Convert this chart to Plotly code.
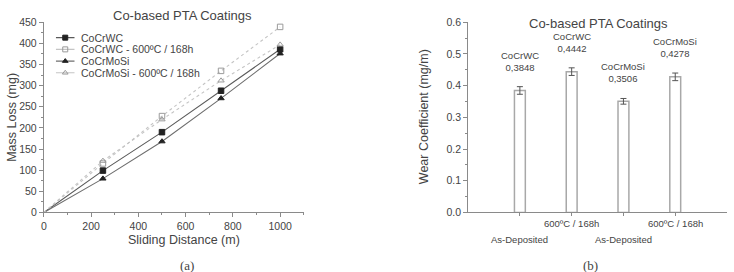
import plotly.graph_objects as go

# ---------------- data ----------------
distance = [0, 250, 500, 750, 1000]
cocrwc = [0, 99, 190, 288, 386]
cocrwc_600 = [0, 116, 228, 335, 439]
cocrmosi = [0, 80, 168, 270, 376]
cocrmosi_600 = [0, 122, 220, 312, 397]
series_names = ["CoCrWC", "CoCrWC - 600ºC / 168h", "CoCrMoSi", "CoCrMoSi - 600ºC / 168h"]

bar_pos = [1, 2, 3, 4]
bar_alloys = ["CoCrWC", "CoCrWC", "CoCrMoSi", "CoCrMoSi"]
bar_labels = ["0,3848", "0,4442", "0,3506", "0,4278"]
wear = [0.3848, 0.4442, 0.3506, 0.4278]
wear_err = [0.012, 0.012, 0.009, 0.012]
cond_labels = ["As-Deposited", "600ºC / 168h", "As-Deposited", "600ºC / 168h"]

FONT = "Liberation Sans, Arial, sans-serif"
AX = "#8a8a8a"
TXT = "#444444"

styles = [
    dict(color="#5a5a5a", dash="solid", symbol="square", mcolor="#222222"),
    dict(color="#c4c4c4", dash="dot", symbol="square-open", mcolor="#9a9a9a"),
    dict(color="#6e6e6e", dash="solid", symbol="triangle-up", mcolor="#222222"),
    dict(color="#c4c4c4", dash="dot", symbol="triangle-up-open", mcolor="#9a9a9a"),
]
ys = [cocrwc, cocrwc_600, cocrmosi, cocrmosi_600]

fig = go.Figure()
for name, y, st in zip(series_names, ys, styles):
    fig.add_trace(go.Scatter(
        x=distance, y=y, mode="lines", name=name, showlegend=False,
        line=dict(color=st["color"], width=1.1, dash=st["dash"]),
        xaxis="x", yaxis="y"))
    fig.add_trace(go.Scatter(
        x=distance[1:], y=y[1:], mode="markers", showlegend=False,
        marker=dict(symbol=st["symbol"], size=5.5, color=st["mcolor"], line=dict(width=1, color=st["mcolor"])),
        xaxis="x", yaxis="y"))

# custom compact legend on overlay axis
leg_y = [3, 2, 1, 0]
for name, st, ly in zip(series_names, styles, leg_y):
    fig.add_trace(go.Scatter(
        x=[0, 1], y=[ly, ly], mode="lines", showlegend=False,
        line=dict(color=st["color"], width=1.1, dash="solid"),
        xaxis="x3", yaxis="y3", hoverinfo="skip"))
    fig.add_trace(go.Scatter(
        x=[0.5], y=[ly], mode="markers", showlegend=False,
        marker=dict(symbol=st["symbol"], size=5, color=st["mcolor"], line=dict(width=1, color=st["mcolor"])),
        xaxis="x3", yaxis="y3", hoverinfo="skip", cliponaxis=False))
    fig.add_annotation(x=1, y=ly, xref="x3", yref="y3", text=name, showarrow=False,
                       xanchor="left", yanchor="middle", xshift=4,
                       font=dict(family=FONT, size=10.5, color=TXT))

# bars
fig.add_trace(go.Bar(
    x=bar_pos, y=wear, width=0.21, showlegend=False,
    marker=dict(color="rgba(0,0,0,0)", line=dict(color="#a8a8a8", width=1.5)),
    error_y=dict(type="data", array=wear_err, color="#555555", thickness=1, width=3),
    xaxis="x2", yaxis="y2"))

for p, a, l, v, e in zip(bar_pos, bar_alloys, bar_labels, wear, wear_err):
    fig.add_annotation(x=p, y=v + e, xref="x2", yref="y2", text=a + "<br>" + l,
                       showarrow=False, xanchor="center", yanchor="bottom", yshift=12,
                       font=dict(family=FONT, size=9.5, color=TXT), align="center")
for i, (p, c) in enumerate(zip(bar_pos, cond_labels)):
    fig.add_annotation(x=p, y=0, xref="x2", yref="y2", text=c, showarrow=False,
                       xanchor="center", yanchor="top", yshift=-4 if i % 2 else -20,
                       font=dict(family=FONT, size=9.5, color=TXT))

ydom = [56 / 272, 255 / 272]
common = dict(showline=True, linecolor=AX, linewidth=1, ticks="outside", tickcolor=AX,
              showgrid=False, zeroline=False,
              tickfont=dict(family=FONT, size=10.5, color=TXT))
fig.update_layout(
    width=734, height=272, margin=dict(l=0, r=0, t=0, b=0),
    plot_bgcolor="white", paper_bgcolor="white",
    xaxis=dict(domain=[41 / 734, 302 / 734], range=[0, 1100], tickvals=[0, 200, 400, 600, 800, 1000],
               minor=dict(tickvals=[100, 300, 500, 700, 900, 1100], ticks="outside", ticklen=2, tickcolor=AX),
               anchor="y", ticklen=4, **common),
    yaxis=dict(domain=ydom, range=[0, 450], dtick=50,
               minor=dict(dtick=25, ticks="outside", ticklen=2, tickcolor=AX),
               anchor="x", ticklen=4, **common),
    xaxis2=dict(domain=[467 / 734, 727 / 734], range=[0, 5], tickvals=bar_pos, showticklabels=False,
                anchor="y2", ticklen=3, **common),
    yaxis2=dict(domain=ydom, range=[0, 0.6], dtick=0.1, tickformat=".1f",
                minor=dict(dtick=0.05, ticks="outside", ticklen=2, tickcolor=AX),
                anchor="x2", ticklen=4, **common),
    xaxis3=dict(domain=[53 / 734, 72 / 734], range=[0, 1], visible=False, fixedrange=True, anchor="y3"),
    yaxis3=dict(domain=[(272 - 76) / 272, (272 - 27) / 272], range=[-0.5, 3.5], visible=False, fixedrange=True,
                anchor="x3"),
    showlegend=False,
)

# titles
def note(x, y, text, size, angle=0, family=FONT, yanchor="middle"):
    fig.add_annotation(x=x / 734, y=1 - y / 272, xref="paper", yref="paper", text=text,
                       showarrow=False, xanchor="center", yanchor=yanchor, textangle=angle,
                       font=dict(family=family, size=size, color=TXT))

note(180, 10, "Co-based PTA Coatings", 13)
note(598, 18, "Co-based PTA Coatings", 13)
note(182, 245, "Sliding Distance (m)", 12.5)
note(9, 116, "Mass Loss (mg)", 12.5, angle=-90)
note(423, 116, "Wear Coefficient (mg/m)", 12.5, angle=-90)
note(185, 262, "(a)", 13, family="Liberation Serif, serif", yanchor="top")
note(590, 262, "(b)", 13, family="Liberation Serif, serif", yanchor="top")

fig.write_html("out.html")
